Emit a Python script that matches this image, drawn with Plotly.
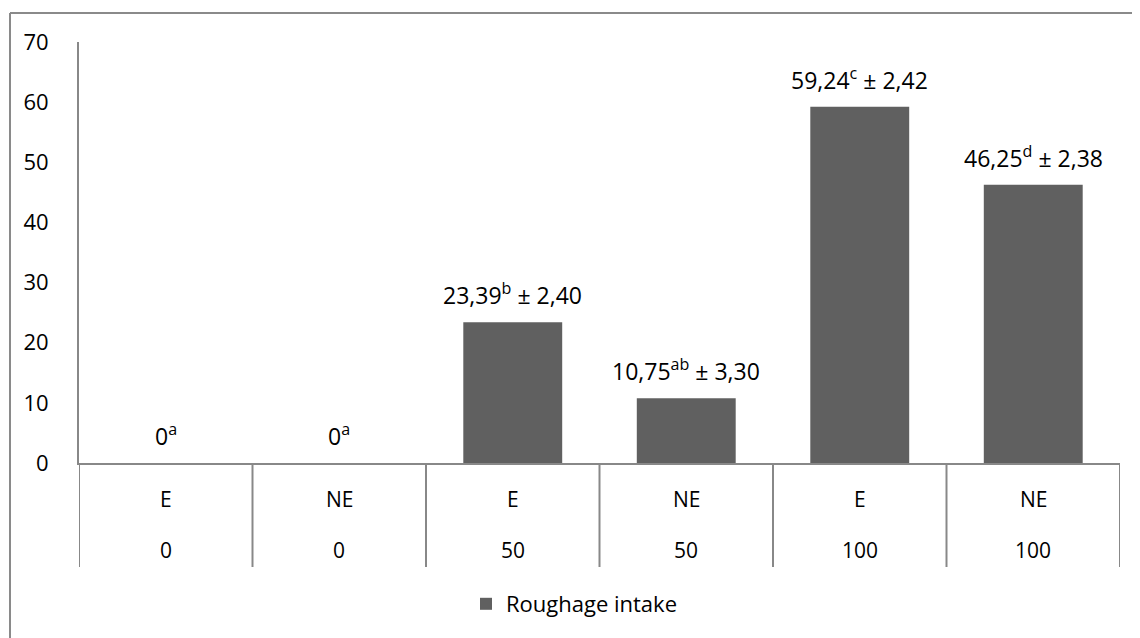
import plotly.graph_objects as go

# Data
treatment = ["E", "NE", "E", "NE", "E", "NE"]
level = ["0", "0", "50", "50", "100", "100"]
intake = [0, 0, 23.39, 10.75, 59.24, 46.25]
letters = ["a", "a", "b", "ab", "c", "d"]
sem = ["", "", "2,40", "3,30", "2,42", "2,38"]
series_name = "Roughage intake"
y_ticks = [0, 10, 20, 30, 40, 50, 60, 70]

FONT = "Open Sans, Liberation Sans, sans-serif"
BAR = "#606060"
AX = "#888888"
FS = 22

def fmt(v):
    if v == 0:
        return "0"
    return f"{v:.2f}".replace(".", ",")

xs = list(range(len(intake)))

fig = go.Figure()
fig.add_trace(go.Bar(
    x=xs, y=intake, name=series_name,
    marker=dict(color=BAR, line=dict(width=0)),
    width=0.57, showlegend=True,
))

annotations = []
for i, (v, l, s) in enumerate(zip(intake, letters, sem)):
    txt = f"{fmt(v)}<sup>{l}</sup>" + (f" ± {s}" if s else "")
    annotations.append(dict(x=i, y=v, xref="x", yref="y", text=txt, showarrow=False,
                            yanchor="bottom", yshift=9,
                            font=dict(family=FONT, size=FS + 1, color="#000")))
    annotations.append(dict(x=i, y=0, xref="x", yref="paper", text=treatment[i], showarrow=False,
                            yanchor="middle", yshift=-36,
                            font=dict(family=FONT, size=FS - 1, color="#000")))
    annotations.append(dict(x=i, y=0, xref="x", yref="paper", text=level[i], showarrow=False,
                            yanchor="middle", yshift=-87,
                            font=dict(family=FONT, size=FS - 1, color="#000")))

# page is offset by 8px body margin; compensate
OFF = 8
L, T, W, H = 79 - OFF, 42 - OFF, 1041, 421
shapes = []
for b in range(len(intake) + 1):
    xb = b - 0.5
    shapes.append(dict(type="line", xref="x", yref="paper", x0=xb, x1=xb,
                       y0=0, y1=-104 / H, line=dict(color=AX, width=2)))

# outer chart border (top and left)
bx = (10 - OFF - L) / W
by = 1 + (T - (13 - OFF)) / H
shapes.append(dict(type="line", xref="paper", yref="paper", x0=bx, x1=bx, y0=by, y1=-1,
                   line=dict(color="#8a8a8a", width=2)))
shapes.append(dict(type="line", xref="paper", yref="paper", x0=bx, x1=1.2, y0=by, y1=by,
                   line=dict(color="#8a8a8a", width=2)))

fig.update_layout(
    width=1140, height=638,
    margin=dict(l=L, r=1140 - L - W, t=T, b=638 - T - H, autoexpand=False),
    paper_bgcolor="white", plot_bgcolor="white",
    font=dict(family=FONT, size=FS, color="#000"),
    xaxis=dict(range=[-0.5, 5.5], showticklabels=False, showgrid=False, zeroline=False,
               showline=True, linecolor=AX, linewidth=2, ticks=""),
    yaxis=dict(range=[0, 70], tickvals=y_ticks, showgrid=False, zeroline=False,
               showline=True, linecolor=AX, linewidth=2, ticks="",
               ticklabelstandoff=24, tickfont=dict(family=FONT, size=FS)),
    legend=dict(orientation="h", x=(466 - 79) / W, xanchor="left", y=(463 - 604) / H,
                yanchor="middle", font=dict(family=FONT, size=FS)),
    annotations=annotations, shapes=shapes,
)

fig.write_html("out.html")
